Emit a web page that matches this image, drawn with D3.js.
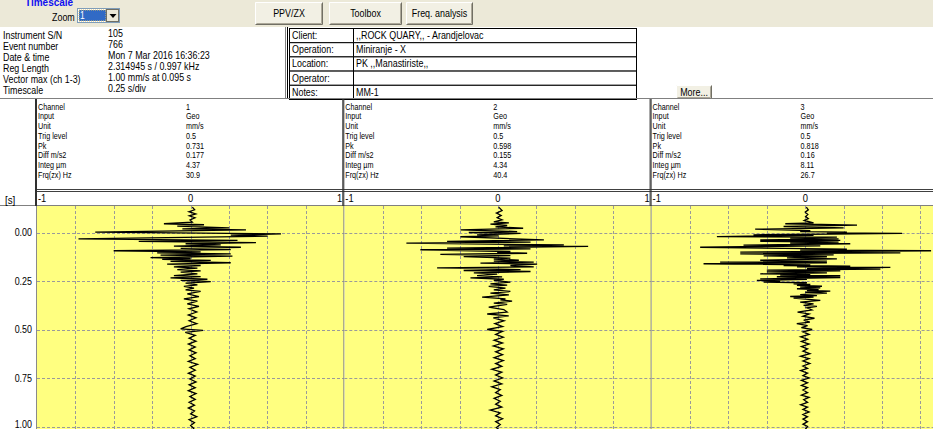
<!DOCTYPE html>
<html>
<head>
<meta charset="utf-8">
<script src="https://cdn.jsdelivr.net/npm/d3@7"></script>
<style>
  body { margin: 0; background: #fff; overflow: hidden; }
  svg text { font-family: "Liberation Sans", Arial, sans-serif; }
</style>
</head>
<body>
<svg id="chart" width="933" height="429"></svg>
<script>
// event header
const infoLabels = ["Instrument S/N", "Event number", "Date & time", "Reg Length", "Vector max (ch 1-3)", "Timescale"];
const infoValues = ["105", "766", "Mon 7 Mar 2016 16:36:23", "2.314945 s / 0.997 kHz", "1.00 mm/s at 0.095 s", "0.25 s/div"];
const siteLabels = ["Client:", "Operation:", "Location:", "Operator:", "Notes:"];
const siteValues = [",,ROCK QUARY,, - Arandjelovac", "Miniranje - X", "PK ,,Manastiriste,,", "", "MM-1"];
const buttonLabels = ["PPV/ZX", "Toolbox", "Freq. analysis"];

// channel tables
const chLabels = ["Channel", "Input", "Unit", "Trig level", "Pk", "Diff m/s2", "Integ µm", "Frq(zx) Hz"];
const ch1Info = ["1", "Geo", "mm/s", "0.5", "0.731", "0.177", "4.37", "30.9"];
const ch2Info = ["2", "Geo", "mm/s", "0.5", "0.598", "0.155", "4.34", "40.4"];
const ch3Info = ["3", "Geo", "mm/s", "0.5", "0.818", "0.16", "8.11", "26.7"];

// axes
const ampTicks = [-1, 0, 1];            // mm/s
const ampGrid = [-0.75, -0.5, -0.25, 0, 0.25, 0.5, 0.75];
const timeTicks = [0, 0.25, 0.5, 0.75, 1];  // s

// traces: [time ms, velocity mm/s] (peaks of each swing)
const ch1 = [[-131,0.011],[-117,0.026],[-107,-0.011],[-96,0.033],[-86,-0.009],[-76,0.028],[-65,-0.004],[-53,0.011],
  [-45,-0.174],[-40,0.087],[-33,-0.087],[-24,0.251],[-19,-0.054],[-14,0.36],[-2,-0.621],[7,0.588],[14,0.261],[19,0.501],
  [33,-0.73],[41,0.305],[46,-0.338],[52,0.425],[58,-0.033],[64,0.196],[70,-0.109],[76,0.327],[82,-0.065],[88,0.261],
  [94,-0.501],[100,0.065],[105,-0.218],[110,0.261],[117,-0.196],[122,0.272],[129,-0.261],[134,0],[139,-0.185],[144,0.131],
  [149,-0.131],[156,0.261],[163,-0.153],[170,0.065],[177,-0.109],[184,0.044],[191,-0.087],[198,0.065],[204,-0.065],[213,0.044],
  [222,-0.109],[227,0.065],[234,-0.131],[241,0.109],[247,-0.065],[253,0.131],[261,-0.033],[270,0.044],[278,-0.044],[287,0.022],
  [296,-0.033],[304,0.065],[316,-0.022],[330,0.054],[342,-0.044],[354,0.044],[368,-0.022],[381,0.054],[393,-0.011],
  [410,0.04],[425,-0.015],[440,0.035],[455,-0.01],[470,0.04],[485,-0.03],[497,-0.065],[505,0.08],[515,-0.035],
  [530,0.03],[545,-0.01],[560,0.035],[575,-0.015],[590,0.03],[605,-0.01],[620,0.035],[635,-0.005],[650,0.03],[665,-0.015],
  [680,0.045],[695,-0.005],[710,0.03],[725,-0.015],[740,0.03],[755,-0.005],[770,0.035],[785,-0.01],[800,0.03],[815,-0.015],
  [830,0.035],[845,-0.005],[860,0.03],[875,-0.01],[890,0.025],[905,-0.015],[920,0.025],[935,0],[950,0.04],[965,-0.01],
  [980,0.025],[995,0],[1010,0.02],[1025,0.01]];

const ch2 = [[-131,0.005],[-113,0.027],[-100,-0.01],[-88,0.021],[-76,-0.005],[-65,0.027],[-55,-0.027],[-50,0.071],
  [-43,-0.049],[-36,0.06],[-29,-0.016],[-22,0.164],[-14,-0.244],[-5,0.125],[0,-0.19],[5,0.147],[12,-0.136],[17,0.005],
  [22,-0.244],[38,0.299],[46,-0.331],[50,0.212],[55,-0.596],[64,0.429],[69,0.038],[72,0.587],[81,-0.331],[84,0.212],
  [89,-0.505],[98,0.081],[103,-0.005],[107,0.19],[113,-0.375],[119,0.081],[124,-0.223],[132,0.081],[137,-0.027],[143,0.136],
  [148,-0.027],[153,0.233],[158,-0.114],[163,0.255],[170,0.081],[177,0.233],[182,-0.396],[191,0.147],[196,-0.223],[201,0.212],
  [208,-0.157],[215,-0.005],[222,-0.136],[229,0.027],[234,-0.179],[241,0.038],[247,-0.027],[256,0.081],[265,-0.049],[271,0.06],
  [278,-0.06],[287,0.049],[296,-0.027],[304,0.081],[313,-0.049],[321,0.071],[333,-0.103],[342,0.049],[347,0.016],[354,0.092],
  [364,-0.027],[371,0.06],[385,-0.06],[397,0.038],
  [410,0.06],[420,-0.07],[430,0.07],[440,-0.03],[455,0.04],[470,-0.02],[485,0.03],[500,-0.07],[510,0.03],[525,-0.015],
  [540,0.035],[555,-0.025],[570,0.03],[585,-0.03],[600,0.035],[615,-0.015],[630,0.03],[645,-0.025],[660,0.035],[675,-0.015],
  [690,0.025],[705,-0.04],[720,0.025],[735,-0.015],[750,0.03],[765,-0.025],[780,0.025],[795,-0.04],[810,0.015],[825,-0.015],
  [840,0.025],[855,-0.025],[870,0.015],[885,-0.015],[900,0.025],[915,-0.05],[930,0.015],[945,-0.015],[960,0.03],[975,-0.015],
  [990,0.015],[1005,-0.01],[1020,0.01]];

const ch3 = [[-131,0.007],[-117,0.02],[-105,0],[-93,0.017],[-82,0.002],[-72,0.02],[-62,-0.007],[-50,0.054],
  [-45,-0.13],[-38,0.337],[-31,-0.141],[-24,0.25],[-17,-0.326],[-10,0.033],[-5,-0.033],[-2,0.271],[2,0.141],[5,0.63],
  [12,-0.337],[15,0.054],[21,-0.575],[24,0.206],[29,-0.098],[33,0.217],[38,-0.293],[41,0.228],[45,-0.293],[50,0.217],
  [55,-0.098],[58,0.293],[65,-0.402],[69,0.098],[76,-0.684],[86,0.271],[91,-0.033],[94,0.819],[101,-0.423],[105,0.619],
  [110,-0.423],[115,0.185],[120,-0.271],[125,0.141],[131,-0.119],[136,0.206],[143,-0.293],[148,0.141],[153,-0.554],[156,0.141],
  [161,-0.662],[167,0.033],[170,-0.141],[174,0.293],[177,-0.054],[180,0.554],[186,0.011],[189,0.489],[194,-0.25],[198,0.228],
  [203,-0.25],[208,0.141],[213,-0.293],[216,0.033],[220,-0.163],[223,0.228],[228,-0.185],[232,0.228],[239,-0.293],[242,0.011],
  [247,-0.315],[251,-0.163],[256,-0.271],[259,0.011],[265,-0.076],[268,0.033],[273,-0.054],[277,0.109],[282,-0.033],[285,0.098],
  [290,-0.054],[294,0.087],[299,0.011],[302,0.163],[308,0],[313,0.141],[320,-0.033],[325,0.076],[330,-0.098],[333,0.054],
  [338,-0.076],[350,0.098],[359,-0.033],[368,0.054],[376,-0.011],[381,0.076],[388,0.011],[399,0.043],
  [410,-0.05],[420,0.025],[432,-0.015],[442,0.06],[452,-0.01],[462,0.03],[470,-0.055],[480,0.015],[490,-0.025],[500,0.045],
  [512,-0.015],[525,0.025],[538,-0.03],[550,0.015],[562,-0.025],[575,0.025],[588,-0.025],[600,0.015],[612,-0.015],[625,0.03],
  [638,-0.03],[650,0.025],[662,-0.015],[675,0.03],[688,-0.015],[700,0.015],[712,-0.03],[725,0.015],[738,-0.015],[750,0.025],
  [762,-0.025],[775,0.015],[788,-0.025],[800,0.015],[812,-0.015],[825,0.015],[838,-0.025],[850,0.025],[862,-0.01],[875,0.015],
  [888,-0.03],[900,0.015],[912,-0.015],[925,0.025],[938,-0.015],[950,0.015],[962,-0.015],[975,0.015],[988,-0.015],[1000,0.015],
  [1015,0]];

const W = 933, H = 429;
const NARROW = 0.85;   // the original UI font is a condensed sans
const svg = d3.select("#chart");
svg.append("rect").attr("width", W).attr("height", H).attr("fill", "#fff");

function hline(x1, x2, y, col) {
  svg.append("line").attr("x1", x1).attr("x2", x2).attr("y1", y).attr("y2", y).attr("stroke", col);
}
function vline(x, y1, y2, col) {
  svg.append("line").attr("x1", x).attr("x2", x).attr("y1", y1).attr("y2", y2).attr("stroke", col);
}
function label(x, y, s, size, anchor, col, sx) {
  return svg.append("text").attr("transform", `translate(${x},${y}) scale(${sx || NARROW},1)`)
    .attr("text-anchor", anchor || "start")
    .style("font-size", size + "px").style("fill", col || "#000").text(s);
}
function button(x, y, w, h, s, size) {
  svg.append("rect").attr("x", x).attr("y", y).attr("width", w).attr("height", h).attr("fill", "#f2f0e4");
  svg.append("path").attr("d", `M${x+0.5},${y+h-0.5}V${y+0.5}H${x+w-0.5}`).attr("stroke", "#fff").attr("fill", "none");
  svg.append("path").attr("d", `M${x+0.5},${y+h-0.5}H${x+w-0.5}V${y+0.5}`).attr("stroke", "#716f64").attr("fill", "none");
  svg.append("path").attr("d", `M${x+1.5},${y+h-1.5}H${x+w-1.5}V${y+1.5}`).attr("stroke", "#aca899").attr("fill", "none");
  label(x + w / 2, y + h / 2 + 3.5, s, size, "middle");
}

// ---- toolbar
svg.append("rect").attr("width", W).attr("height", 27).attr("fill", "#ece9d8");
svg.append("text").attr("x", 25).attr("y", 6).style("font-weight", "bold")
  .style("font-size", "10px").style("fill", "#1010f0").text("Timescale");
label(52, 21, "Zoom", 10.5);
svg.append("rect").attr("x", 77.5).attr("y", 8.5).attr("width", 42).attr("height", 14).attr("fill", "#fff").attr("stroke", "#7f9db9");
svg.append("rect").attr("x", 79).attr("y", 10).attr("width", 27).attr("height", 11).attr("fill", "#316ac5")
  .attr("stroke", "#e0c060").attr("stroke-dasharray", "1,1");
label(80, 19, "1", 10, "start", "#fff");
svg.append("rect").attr("x", 106.5).attr("y", 9.5).attr("width", 12).attr("height", 12).attr("fill", "#ece9d8").attr("stroke", "#716f64");
svg.append("path").attr("d", "M109.5,14h7l-3.5,4z").attr("fill", "#000");

const btnX = [255, 329, 406], btnW = [68, 73, 67];
buttonLabels.forEach((s, i) => button(btnX[i], 2, btnW[i], 23, s, 10.5));

// ---- event info
const infoY = d3.range(6).map(i => 38.5 + i * 11);
infoLabels.forEach((s, i) => label(3, infoY[i], s, 10, "start", "#000", 0.89));
infoValues.forEach((s, i) => label(108, infoY[i] - 1.5, s, 10, "start", "#000", 0.89));

// site table
const rowY = d3.range(6).map(i => 28.5 + i * 14.2);
vline(285.5, 27, 99, "#808080");
vline(287.5, 27, 99, "#000");
siteLabels.forEach((s, i) => {
  svg.append("rect").attr("x", 289.5).attr("y", rowY[i]).attr("width", 64).attr("height", 14.2)
    .attr("fill", "#fff").attr("stroke", "#000");
  svg.append("rect").attr("x", 353.5).attr("y", rowY[i]).attr("width", 283).attr("height", 14.2)
    .attr("fill", "#fff").attr("stroke", "#000");
  label(292, rowY[i] + 10.5, s, 10.5);
  label(356, rowY[i] + 10.5, siteValues[i], 10.5);
});
button(676, 85, 36, 14, "More...", 10.5);

// ---- channel panels
hline(0, W, 98.5, "#808080");
const panelW = 307.3;
const panels = [
  { info: ch1Info, trace: ch1, left: 37 },
  { info: ch2Info, trace: ch2, left: 344.3 },
  { info: ch3Info, trace: ch3, left: 651.6 }
];
const y = d3.scaleLinear().domain([0, 1]).range([232.5, 426.5]);
const plotTop = 206;

hline(35, W, 189.5, "#404040");
hline(35, W, 191.5, "#404040");
hline(0, W, 205.5, "#808080");
label(5, 203.5, "[s]", 11.5);

const line = d3.line().curve(d3.curveLinear);

panels.forEach((p, k) => {
  const x = d3.scaleLinear().domain([-1, 1]).range([p.left, p.left + panelW]);
  const sep = p.left - 1.5;
  vline(sep, 99, 206, "#303030");
  vline(sep + 1, 99, 206, "#303030");

  chLabels.forEach((s, i) => {
    const yy = 109.5 + i * 9.75;
    label(p.left + 1, yy, s, 8.5);
    label(p.left + 149, yy, p.info[i], 8.5);
  });

  // header scale
  ampTicks.forEach(v => {
    const anchor = v < 0 ? "start" : v > 0 ? "end" : "middle";
    const xx = v < 0 ? x(v) + 1 : v > 0 ? x(v) - 2 : x(v);
    if (xx < W - 4) label(xx, 202, v < 0 ? "-1" : String(v), 11, anchor);
  });

  // plot
  const clipId = "clip" + k;
  svg.append("clipPath").attr("id", clipId).append("rect")
    .attr("x", x(-1)).attr("y", plotTop).attr("width", panelW).attr("height", H - plotTop);
  const g = svg.append("g").attr("clip-path", `url(#${clipId})`);
  g.append("rect").attr("x", x(-1)).attr("y", plotTop).attr("width", panelW).attr("height", H - plotTop).attr("fill", "#ffff80");
  g.selectAll(".vg").data(ampGrid).join("line")
    .attr("x1", d => Math.round(x(d)) + 0.5).attr("x2", d => Math.round(x(d)) + 0.5)
    .attr("y1", plotTop).attr("y2", H)
    .attr("stroke", "#9a9a9a").attr("stroke-dasharray", "3,2");
  g.selectAll(".hg").data(timeTicks).join("line")
    .attr("x1", x(-1)).attr("x2", x(1))
    .attr("y1", d => Math.round(y(d)) + 0.5).attr("y2", d => Math.round(y(d)) + 0.5)
    .attr("stroke", "#9a9a9a").attr("stroke-dasharray", "3,2");
  g.append("path")
    .attr("d", line(p.trace.map(d => [x(d[1]), y(d[0] / 1000)])))
    .attr("fill", "none").attr("stroke", "#000").attr("stroke-width", 1.3).attr("stroke-linejoin", "miter");
  vline(x(-1) - 0.5, plotTop, H, "#8a8a8a");
});

// time axis labels
const fmt = d3.format(".2f");
timeTicks.forEach(t => label(32, Math.min(y(t) + 3.5, H - 1), fmt(t), 10.5, "end"));
</script>
</body>
</html>
